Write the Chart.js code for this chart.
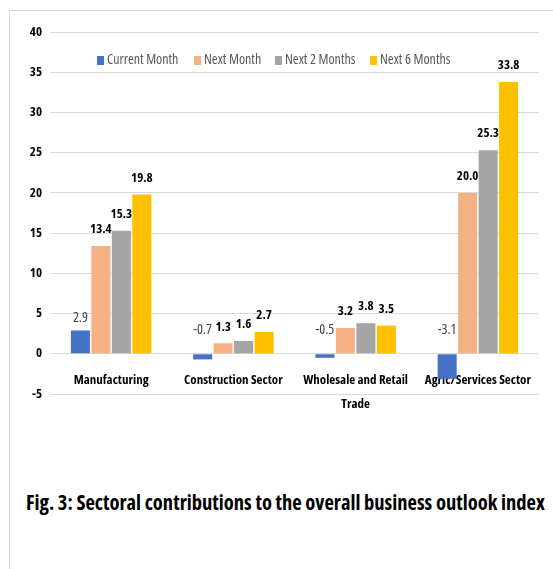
<!DOCTYPE html>
<html>
<head>
<meta charset="utf-8">
<script src="https://cdn.jsdelivr.net/npm/chart.js@4.4.1/dist/chart.umd.min.js"></script>
<style>
  body { margin: 0; background: #fff; width: 553px; height: 569px; overflow: hidden; position: relative; font-family: "Open Sans", sans-serif; font-stretch: condensed; }
  #frame { position: absolute; left: 9px; top: 10px; width: 600px; height: 600px; border: 1px solid #d9d9d9; }
  #chart { position: absolute; left: 0; top: 0; }
  #legend span.item { position: absolute; top: 50px; font-size: 14px; color: #595959; white-space: nowrap; line-height: 18px; }
  #legend i { display: inline-block; width: 7px; height: 9px; margin-right: 3px; vertical-align: -1px; }
  #title { position: absolute; left: 26px; top: 488px; font-size: 20.5px; font-weight: bold; color: #000; white-space: nowrap; }
</style>
</head>
<body>
<div id="frame"></div>
<canvas id="chart" width="553" height="430"></canvas>
<div id="legend"></div>
<div id="title">Fig. 3: Sectoral contributions to the overall business outlook index</div>
<script>
// datos del grafico
const sectores = ["Manufacturing", "Construction Sector", ["Wholesale and Retail", "Trade"], "Agric/Services Sector"];
const series = ["Current Month", "Next Month", "Next 2 Months", "Next 6 Months"];
const mesActual = [2.9, -0.7, -0.5, -3.1];
const mesSiguiente = [13.4, 1.3, 3.2, 20.0];
const dosMeses = [15.3, 1.6, 3.8, 25.3];
const seisMeses = [19.8, 2.7, 3.5, 33.8];
const colores = ["#4472C4", "#F4B183", "#A5A5A5", "#FFC000"];
const FUENTE = "'Open Sans', sans-serif";

// leyenda en html (x de cada elemento)
const legendX = [97, 194, 275, 370];
const legend = document.getElementById("legend");
series.forEach((s, i) => {
    legend.innerHTML += `<span class="item" style="left:${legendX[i]}px"><i style="background:${colores[i]}"></i>${s}</span>`;
});

// etiquetas de valores sobre las barras
const etiquetas = {
    id: 'etiquetas',
    afterDatasetsDraw(chart) {
        const ctx = chart.ctx;
        const cero = chart.scales.y.getPixelForValue(0);
        ctx.save();
        ctx.textAlign = 'center';
        ctx.textBaseline = 'bottom';
        chart.data.datasets.forEach((ds, i) => {
            const meta = chart.getDatasetMeta(i);
            meta.data.forEach((bar, j) => {
                const v = ds.data[j];
                let y;
                if (i === 0) {
                    ctx.font = 'condensed 14px ' + FUENTE;
                    ctx.fillStyle = '#404040';
                    y = v >= 0 ? bar.y - 5 : cero - 17;
                } else {
                    ctx.font = 'bold condensed 13px ' + FUENTE;
                    ctx.fillStyle = '#000';
                    y = bar.y - 10;
                }
                ctx.fillText(v.toFixed(1), bar.x, y);
            });
        });
        ctx.restore();
    }
};

const datos = [mesActual, mesSiguiente, dosMeses, seisMeses];

new Chart(document.getElementById('chart'), {
    type: 'bar',
    data: {
        labels: sectores,
        datasets: series.map((s, i) => ({
            label: s,
            data: datos[i],
            backgroundColor: colores[i],
            categoryPercentage: 0.67,
            barPercentage: 0.93
        }))
    },
    options: {
        responsive: false,
        animation: false,
        layout: { padding: { left: 0, top: 32, right: 14, bottom: 36 } },
        plugins: {
            legend: { display: false },
            tooltip: { enabled: false }
        },
        scales: {
            x: {
                position: { y: 0 },
                grid: { display: false },
                border: { display: false },
                ticks: { color: '#000', font: { family: FUENTE, size: 13, weight: 'bold condensed', lineHeight: 1.8 }, padding: 7, maxRotation: 0, autoSkip: false }
            },
            y: {
                min: -5,
                max: 40,
                grid: { color: '#d9d9d9', lineWidth: 1, drawTicks: false },
                border: { display: false },
                ticks: { stepSize: 5, color: '#000', font: { family: FUENTE, size: 13, weight: 'bold condensed' }, padding: 8 },
                afterFit: function (scale) { scale.width = 50; }
            }
        }
    },
    plugins: [etiquetas]
});
</script>
</body>
</html>
